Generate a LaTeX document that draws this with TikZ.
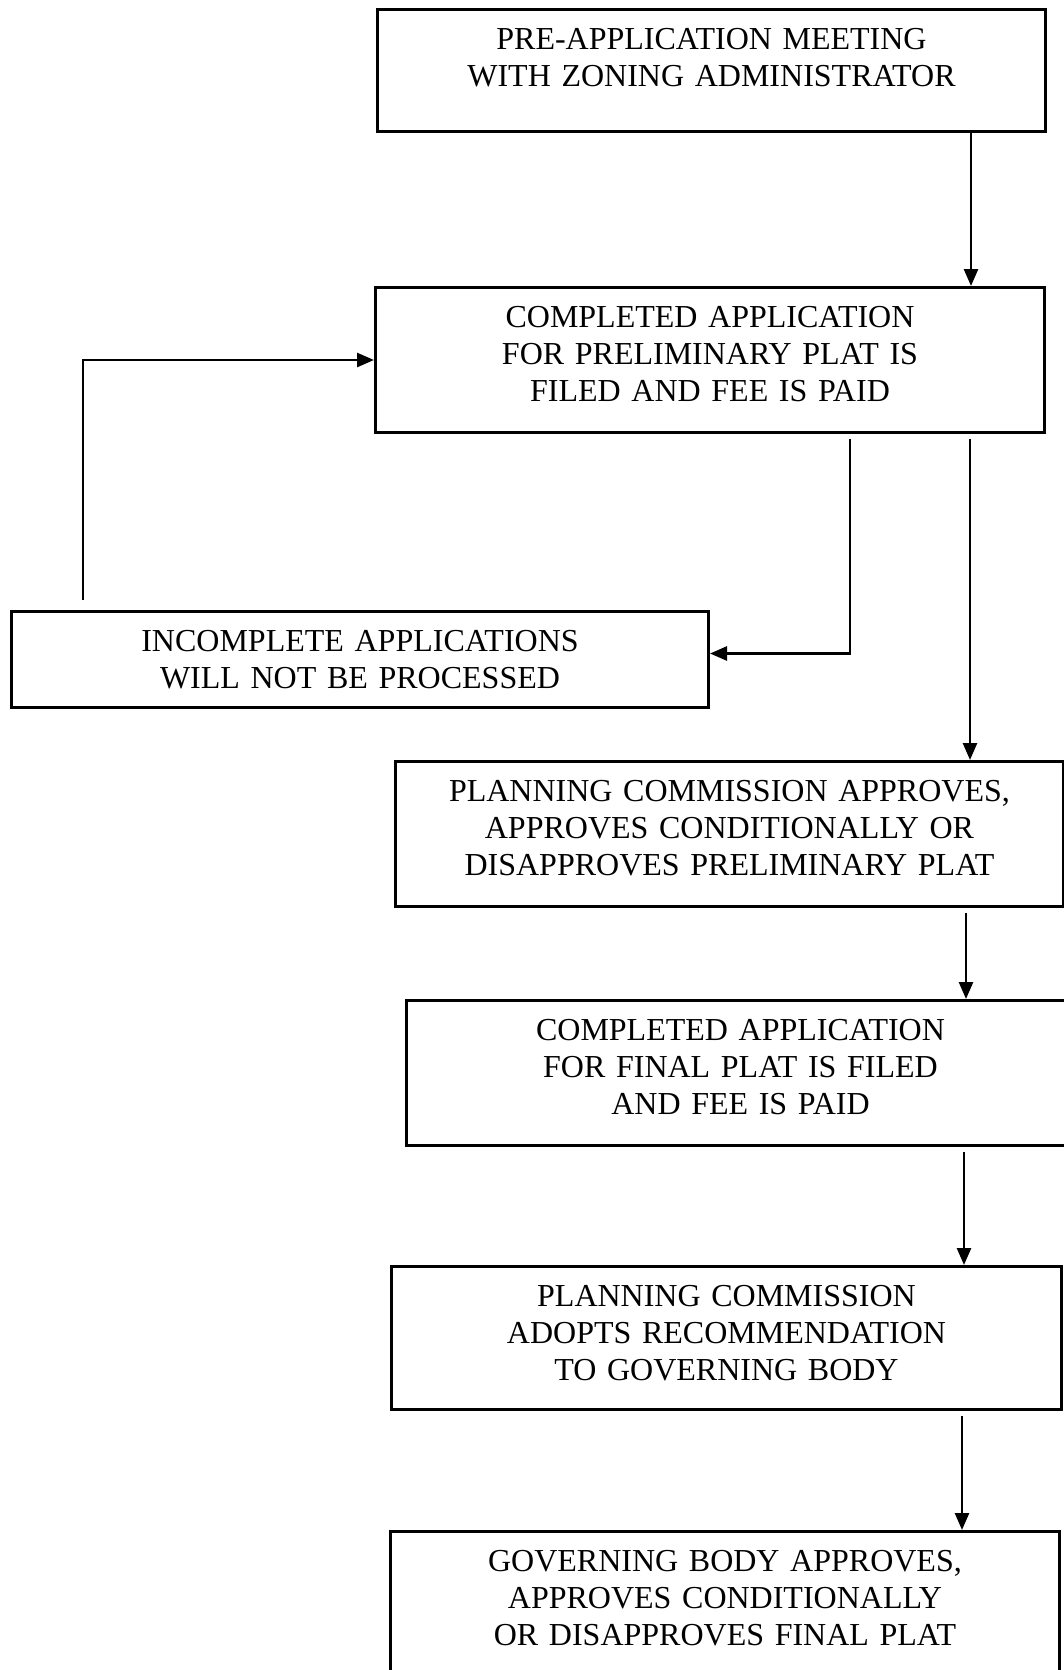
\documentclass[tikz,border=0pt]{standalone}
\usepackage{fontspec}
\setmainfont{Liberation Serif}
\usetikzlibrary{arrows.meta}

\newcommand{\boxfont}{\fontsize{32}{37}\selectfont}

\begin{document}
\begin{tikzpicture}[x=1pt, y=-1pt]
\tikzset{ >={Triangle[length=17pt, width=14pt]},
  box/.style={draw, line width=3pt, inner sep=0pt, anchor=north west,
              align=center, text height=40pt, font=\boxfont},
  link/.style={line width=2.6pt, shorten <=5pt} }

\useasboundingbox (0,0) rectangle (1063,1670);
%\draw [lightgray, dashed, step=50] (0,0) grid (1063,1670);

\node [box, text width=668pt, text depth=82pt]  (M) at (376,8)
  {PRE-APPLICATION MEETING\\WITH ZONING ADMINISTRATOR};
\node [box, text width=669pt, text depth=105pt] (P) at (374,286)
  {COMPLETED APPLICATION\\FOR PRELIMINARY PLAT IS\\FILED AND FEE IS PAID};
\node [box, text width=697pt, text depth=56pt]  (I) at (10,610)
  {INCOMPLETE APPLICATIONS\\WILL NOT BE PROCESSED};
\node [box, text width=668pt, text depth=105pt] (C) at (394,760)
  {PLANNING COMMISSION APPROVES,\\APPROVES CONDITIONALLY OR\\DISAPPROVES PRELIMINARY PLAT};
\node [box, text width=668pt, text depth=105pt] (F) at (405,999)
  {COMPLETED APPLICATION\\FOR FINAL PLAT IS FILED\\AND FEE IS PAID};
\node [box, text width=670pt, text depth=103pt] (R) at (390,1265)
  {PLANNING COMMISSION\\ADOPTS RECOMMENDATION\\TO GOVERNING BODY};
\node [box, text width=669pt, text depth=150pt] (G) at (389,1530)
  {GOVERNING BODY APPROVES,\\APPROVES CONDITIONALLY\\OR DISAPPROVES FINAL PLAT};

% columns of the connectors
\coordinate (a1) at (971,0);
\coordinate (a2) at (970,0);
\coordinate (a3) at (966,0);
\coordinate (a4) at (964,0);
\coordinate (a5) at (962,0);
\coordinate (fb) at (850,0);
\coordinate (lp) at (83,0);

\draw [->, link, shorten <=0pt] (M.south -| a1) -- (P.north -| a1);
\draw [->, link] (P.south -| fb) |- ([yshift=6pt]I.east);
\draw [->, link, shorten <=10pt] (I.north -| lp) |- (P.west);
\draw [->, link] (P.south -| a2) -- (C.north -| a2);
\draw [->, link] (C.south -| a3) -- (F.north -| a3);
\draw [->, link] (F.south -| a4) -- (R.north -| a4);
\draw [->, link] (R.south -| a5) -- (G.north -| a5);

\end{tikzpicture}
\end{document}
